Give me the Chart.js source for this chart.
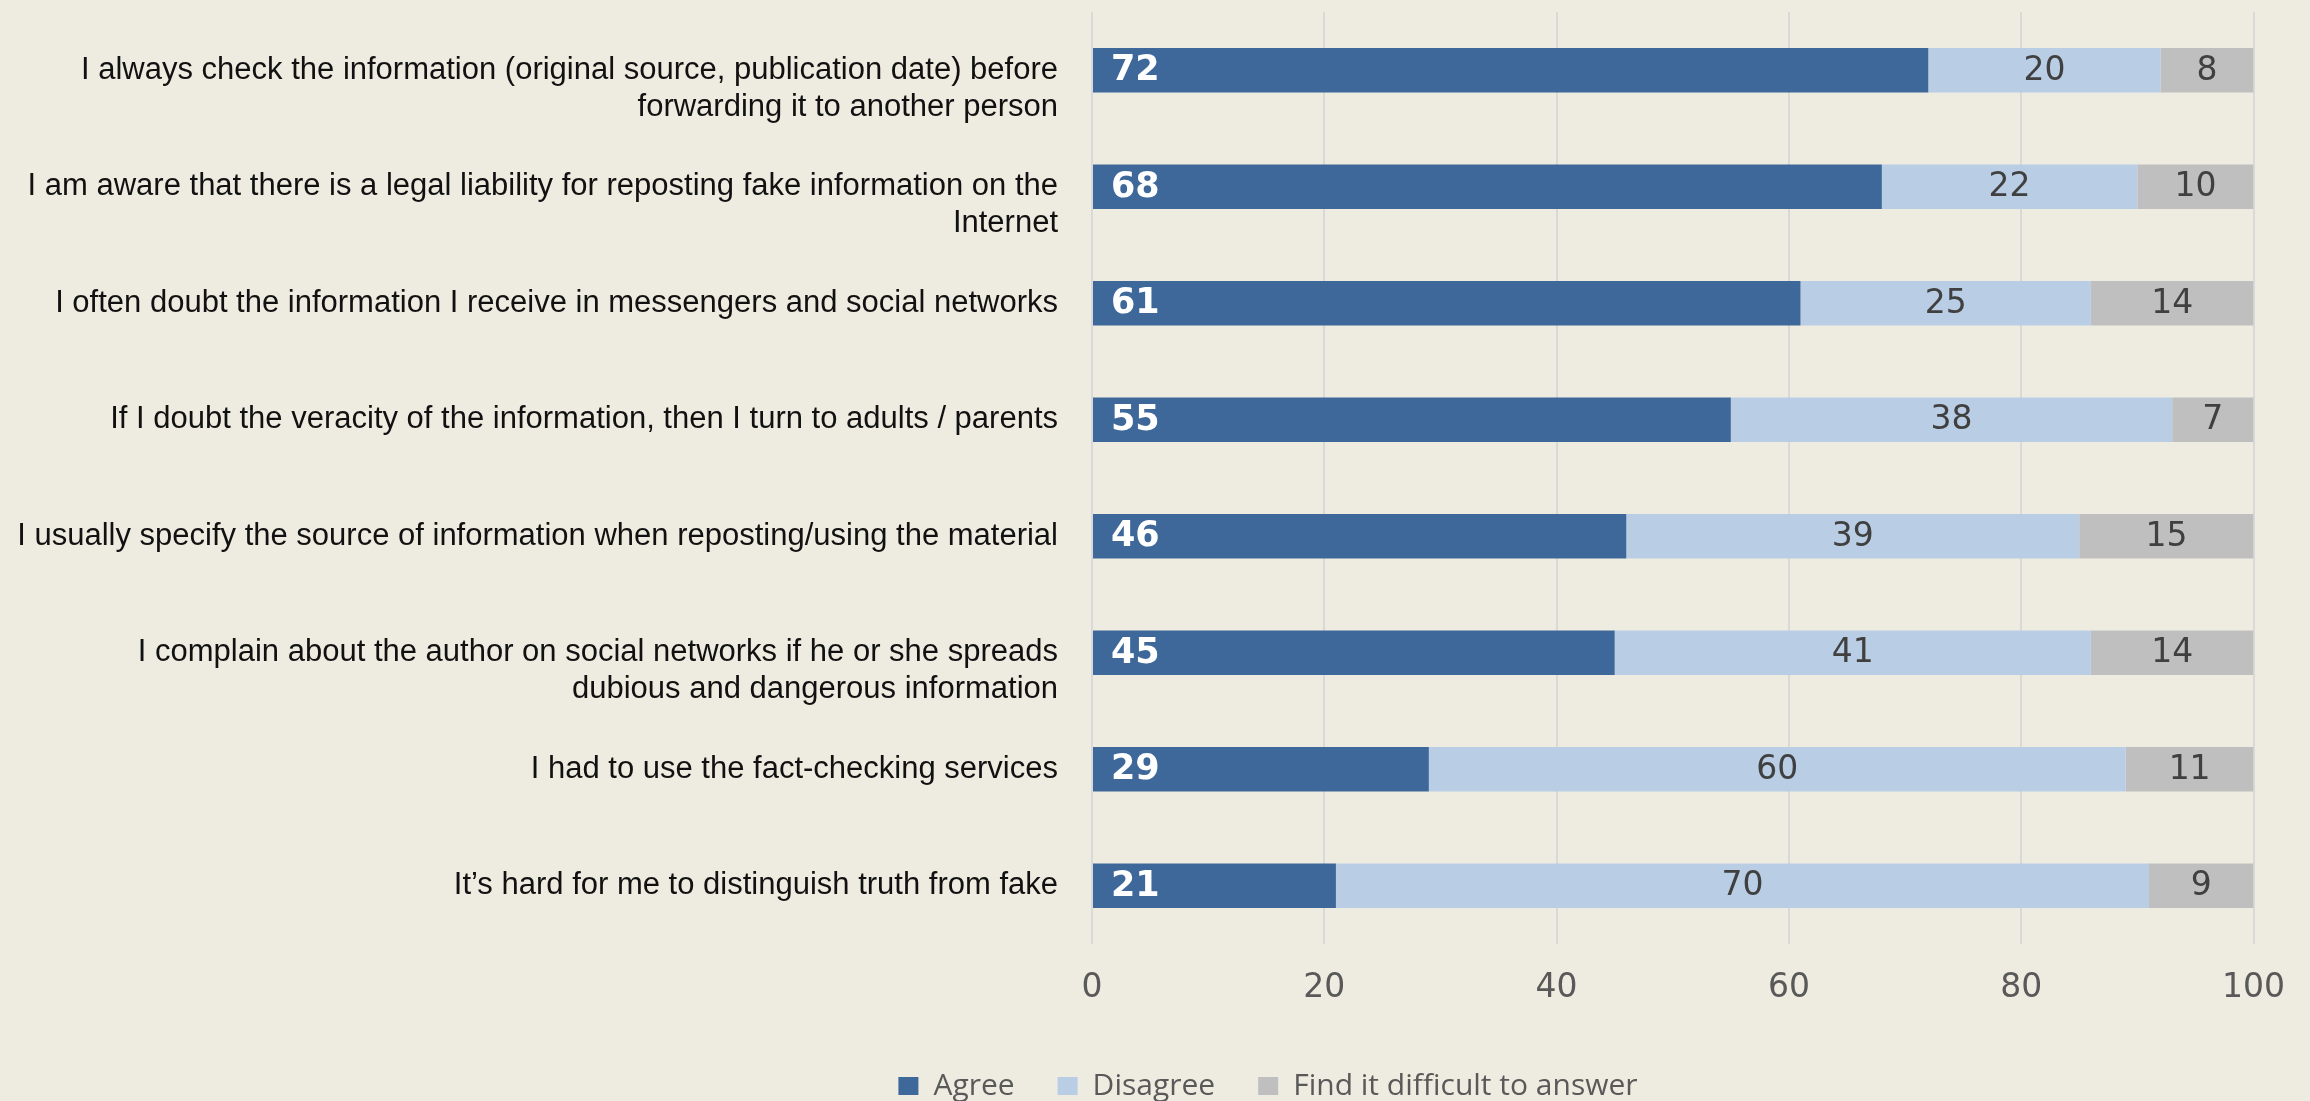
<!DOCTYPE html>
<html lang="en">
<head>
<meta charset="utf-8">
<title>Attitudes to information</title>
<script src="https://cdn.jsdelivr.net/npm/chart.js@4.4.1/dist/chart.umd.min.js"></script>
<style>
    html, body { margin: 0; padding: 0; background: #EEECE1; }
    #wrap { width: 2310px; height: 1101px; }
    canvas { display: block; background: #EEECE1; }
</style>
</head>
<body>
<div id="wrap">
    <canvas id="surveyChart" width="2310" height="1101"></canvas>
</div>
<script>
// Statements, top to bottom (each entry = wrapped lines)
const statements = [
    ['I always check the information (original source, publication date) before', 'forwarding it to another person'],
    ['I am aware that there is a legal liability for reposting fake information on the', 'Internet'],
    ['I often doubt the information I receive in messengers and social networks'],
    ['If I doubt the veracity of the information, then I turn to adults / parents'],
    ['I usually specify the source of information when reposting/using the material'],
    ['I complain about the author on social networks if he or she spreads', 'dubious and dangerous information'],
    ['I had to use the fact-checking services'],
    ['It\u2019s hard for me to distinguish truth from fake']
];

const seriesNames = ['Agree', 'Disagree', 'Find it difficult to answer'];
const agree = [72, 68, 61, 55, 46, 45, 29, 21];
const disagree = [20, 22, 25, 38, 39, 41, 60, 70];
const difficult = [8, 10, 14, 7, 15, 14, 11, 9];

const xTicks = [0, 20, 40, 60, 80, 100];

const COLORS = {
    agree: '#3E679A',
    disagree: '#B9CDE5',
    difficult: '#BFBFBF',
    grid: '#D9D9D9',
    tick: '#595959',
    label: '#111111',
    value: '#404040'
};

// wrapped labels: first line stays level with the bar, the rest hang below it
function toAxisLabel(lines) {
    return lines.length > 1 ? [''].concat(lines) : lines[0];
}

// value labels drawn on each bar segment
const barValueLabels = {
    id: 'barValueLabels',
    afterDatasetsDraw(chart) {
        const ctx = chart.ctx;
        ctx.save();
        ctx.textBaseline = 'middle';
        chart.data.datasets.forEach((ds, di) => {
            const meta = chart.getDatasetMeta(di);
            if (meta.hidden) return;
            meta.data.forEach((bar, i) => {
                const p = bar.getProps(['x', 'y', 'base'], true);
                const value = ds.data[i];
                if (di === 0) {
                    ctx.font = 'bold 35px "DejaVu Sans"';
                    ctx.fillStyle = '#FFFFFF';
                    ctx.textAlign = 'left';
                    ctx.fillText(value, Math.min(p.base, p.x) + 18, p.y + 1);
                } else {
                    ctx.font = '33px "DejaVu Sans"';
                    ctx.fillStyle = COLORS.value;
                    ctx.textAlign = 'center';
                    ctx.fillText(value, (p.base + p.x) / 2, p.y + 1);
                }
            });
        });
        ctx.restore();
    }
};

// legend: centred a bit right of the middle, pinned to the bottom edge
const legendNudge = {
    id: 'legendNudge',
    afterLayout(chart) {
        const lg = chart.legend;
        if (!lg) return;
        const h = lg.bottom - lg.top;
        lg.left += 137;
        lg.right += 137;
        lg.bottom = chart.height + 10;
        lg.top = lg.bottom - h;
    }
};

const ctx = document.getElementById('surveyChart').getContext('2d');

const surveyChart = new Chart(ctx, {
    type: 'bar',
    data: {
        labels: statements.map(toAxisLabel),
        datasets: [
            { label: seriesNames[0], data: agree, backgroundColor: COLORS.agree },
            { label: seriesNames[1], data: disagree, backgroundColor: COLORS.disagree },
            { label: seriesNames[2], data: difficult, backgroundColor: COLORS.difficult }
        ]
    },
    options: {
        indexAxis: 'y',
        responsive: false,
        animation: false,
        layout: {
            padding: { top: 12, right: 48, bottom: -10, left: 0 }
        },
        datasets: {
            bar: {
                categoryPercentage: 1,
                barPercentage: 0.38,
                borderWidth: 0
            }
        },
        plugins: {
            tooltip: { enabled: false },
            legend: {
                position: 'bottom',
                labels: {
                    boxWidth: 20,
                    boxHeight: 18,
                    padding: 43,
                    color: COLORS.tick,
                    font: { family: '"Open Sans"', size: 30 }
                }
            }
        },
        scales: {
            x: {
                stacked: true,
                min: xTicks[0],
                max: xTicks[xTicks.length - 1],
                afterBuildTicks: (scale) => {
                    scale.ticks = xTicks.map(v => ({ value: v }));
                },
                afterFit: (scale) => { scale.height = 84; },
                border: { display: false },
                grid: { color: COLORS.grid, lineWidth: 2, drawTicks: false },
                ticks: {
                    padding: 25,
                    color: COLORS.tick,
                    font: { family: '"DejaVu Sans"', size: 33 }
                }
            },
            y: {
                stacked: true,
                afterFit: (scale) => {
                    scale.width = 1092;
                    // wrapped labels may overhang the plot; don't let them push it
                    scale.paddingTop = 0;
                    scale.paddingBottom = 0;
                },
                border: { display: false },
                grid: { display: false },
                ticks: {
                    autoSkip: false,
                    padding: 26,
                    color: COLORS.label,
                    font: { family: '"Liberation Sans"', size: 31, lineHeight: 1.2 }
                }
            }
        }
    },
    plugins: [barValueLabels, legendNudge]
});
</script>
</body>
</html>
